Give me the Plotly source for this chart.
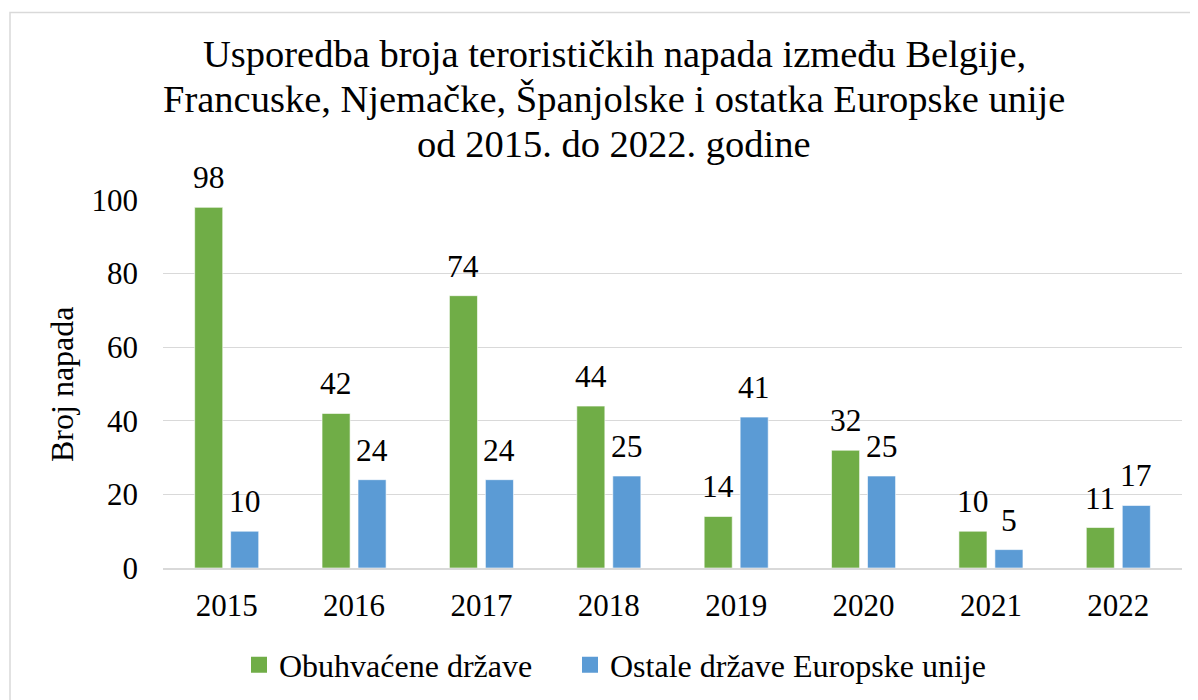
import plotly.graph_objects as go

years = ["2015", "2016", "2017", "2018", "2019", "2020", "2021", "2022"]
obuhvacene = [98, 42, 74, 44, 14, 32, 10, 11]
ostale = [10, 24, 24, 25, 41, 25, 5, 17]
series_names = ["Obuhvaćene države", "Ostale države Europske unije"]
colors = ["#70AD47", "#5B9BD5"]
y_ticks = [0, 20, 40, 60, 80, 100]
title_lines = [
    "Usporedba broja terorističkih napada između Belgije,",
    "Francuske, Njemačke, Španjolske i ostatka Europske unije",
    "od 2015. do 2022. godine",
]
y_title = "Broj napada"

FONT = "Liberation Serif, Times New Roman, serif"
OFF = 8  # page body margin
W, H = 1198 - OFF, 700 - OFF
# plot area in page coords: x 163..1182, y 200..568
L, R, T, B = 163 - OFF, 1198 - 1182, 200 - OFF, 700 - 568
pw, ph = W - L - R, H - T - B


def px(xpage):
    return (xpage - OFF - L) / pw


def py(ypage):
    return (H - B - (ypage - OFF)) / ph


fig = go.Figure()
for name, vals, col in zip(series_names, [obuhvacene, ostale], colors):
    fig.add_trace(go.Bar(
        x=years, y=vals, name=name, showlegend=False,
        marker=dict(color=col, line=dict(color="rgba(255,255,255,0.6)", width=1)),
        hoverinfo="x+y",
    ))
for name, col, lw in zip(series_names, colors, [286, 420]):
    fig.add_trace(go.Scatter(
        x=[None], y=[None], mode="markers", name=name, legendwidth=lw,
        marker=dict(symbol="square", size=16, color=col),
    ))

annotations = []
for shift, vals in zip([-18, 18], [obuhvacene, ostale]):
    for idx, v in enumerate(vals):
        annotations.append(dict(
            x=idx, y=v, xref="x", yref="y", text=str(v), showarrow=False,
            xanchor="center", yanchor="bottom", xshift=shift, yshift=10,
            font=dict(family=FONT, size=31.5, color="black"),
        ))
for i, (line, base) in enumerate(zip(title_lines, [68, 113, 158])):
    annotations.append(dict(
        text=line, xref="paper", yref="paper", x=px(614), y=py(base - 14),
        xanchor="center", yanchor="middle", showarrow=False,
        font=dict(family=FONT, size=38.5, color="black"),
    ))
annotations.append(dict(
    text=y_title, textangle=-90, xref="paper", yref="paper", x=px(62), y=py(384),
    xanchor="center", yanchor="middle", showarrow=False,
    font=dict(family=FONT, size=32, color="black"),
))

fig.update_layout(
    width=W, height=H,
    margin=dict(l=L, r=R, t=T, b=B, autoexpand=False),
    paper_bgcolor="white", plot_bgcolor="white",
    barmode="group", bargap=0.435, bargroupgap=0.22,
    font=dict(family=FONT, size=31, color="black"),
    showlegend=True,
    legend=dict(orientation="h", x=px(251 - 12), xanchor="left", y=py(665), yanchor="middle",
                font=dict(family=FONT, size=32, color="black"), itemwidth=30,
                bgcolor="rgba(0,0,0,0)"),
    xaxis=dict(type="category", categoryorder="array", categoryarray=years,
               range=[-0.5, len(years) - 0.5],
               showgrid=False, showline=True, linecolor="#D9D9D9", linewidth=1.5,
               ticks="", tickfont=dict(family=FONT, size=31), ticklabelstandoff=9),
    yaxis=dict(range=[0, 100], tickvals=y_ticks, showgrid=True, gridcolor="#D9D9D9", gridwidth=1.3,
               zeroline=False, showline=False, ticks="", tickfont=dict(family=FONT, size=31),
               ticklabelstandoff=24),
    annotations=annotations,
    shapes=[dict(type="rect", xref="paper", yref="paper", x0=px(10), x1=px(1197.5), y0=py(702), y1=py(12.5),
                 line=dict(color="#D9D9D9", width=1.5), fillcolor="rgba(0,0,0,0)", layer="below")],
)

fig.write_html("out.html")
